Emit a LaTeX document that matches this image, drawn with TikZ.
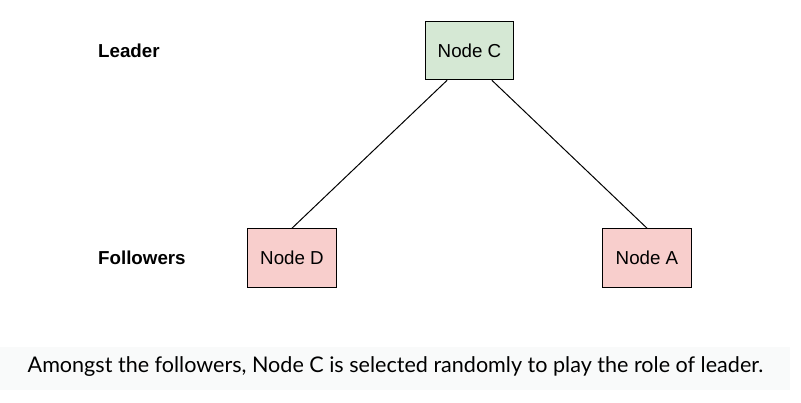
\documentclass[tikz,border=0pt]{standalone}
\usepackage{fontspec}
\setmainfont{Liberation Sans}
\newfontfamily\captionfont{Lato}
\usetikzlibrary{positioning,calc}
\definecolor{leadfill}{HTML}{D5E8D4}
\definecolor{followfill}{HTML}{F8CECC}
\definecolor{bandgray}{HTML}{F9FAFA}
\tikzset{
  member/.style={draw, rectangle, thick, minimum width=2.66cm, minimum height=1.76cm, font=\fontsize{16}{19}\selectfont},
  role/.style={anchor=west, font=\fontsize{16}{19}\selectfont\bfseries},
  link/.style={line width=0.85pt},
}
\begin{document}
\begin{tikzpicture}[x=0.03cm, y=-0.03cm]
  \useasboundingbox (0,0) rectangle (801,403);
  \fill [bandgray] (0,347) rectangle (790,390);

  \node (C) [member, fill=leadfill] at (469.5,50.5) {Node C};
  \node (D) [member, fill=followfill] at (292,258) {Node D};
  \node (A) [member, fill=followfill] at (647,258) {Node A};

  \node (leader) [role] at (94,50.5) {Leader};
  \node (followers) [role] at (94,258) {Followers};

  \draw [link] ($(C.south)!0.5!(C.south west)$) -- (D.north);
  \draw [link] ($(C.south)!0.5!(C.south east)$) -- (A.north);

  \node (note) [font=\captionfont\fontsize{18.4}{22}\selectfont] at (395.5,367)
    {Amongst the followers, Node C is selected randomly to play the role of leader.};
\end{tikzpicture}
\end{document}
